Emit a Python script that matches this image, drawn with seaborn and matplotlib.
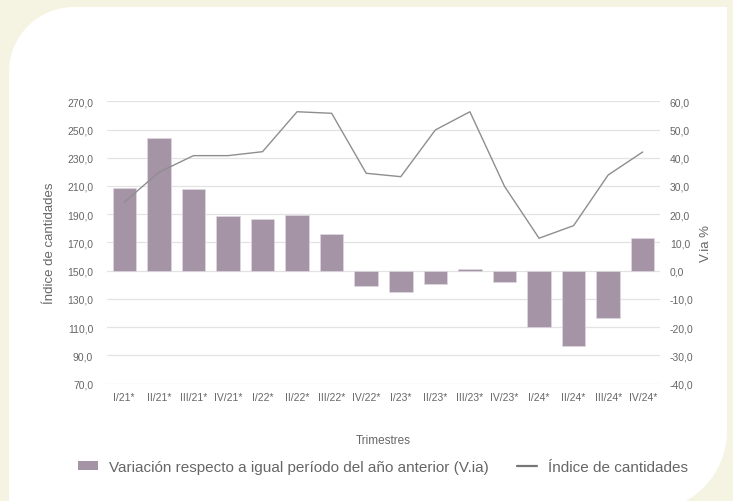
import numpy as np
import pandas as pd
import seaborn as sns
import matplotlib.pyplot as plt
from matplotlib.patches import Polygon, Patch
from matplotlib.lines import Line2D

# Data
trimestres = ['I/21*', 'II/21*', 'III/21*', 'IV/21*', 'I/22*', 'II/22*', 'III/22*', 'IV/22*',
              'I/23*', 'II/23*', 'III/23*', 'IV/23*', 'I/24*', 'II/24*', 'III/24*', 'IV/24*']
variacion_ia = [29.2, 46.9, 28.9, 19.4, 18.2, 19.8, 13.0, -5.3,
                -7.4, -4.8, 0.5, -4.1, -19.8, -26.8, -16.8, 11.6]
indice_cantidades = [198.5, 219.7, 231.5, 231.5, 234.3, 262.6, 261.5, 219.0,
                     216.6, 249.7, 262.6, 209.8, 173.0, 181.9, 217.8, 234.1]

df = pd.DataFrame({'trimestre': trimestres, 'via': variacion_ia, 'indice': indice_cantidades})

bar_color = '#A594A5'
line_color = '#8E8E8E'
text_color = '#666666'
cream = '#F5F3E1'

sns.set_theme(style='white')
plt.rcParams['font.family'] = ['Liberation Sans', 'DejaVu Sans']

fig = plt.figure(figsize=(7.33, 5.02), dpi=100)
fig.patch.set_facecolor(cream)

# white card with two rounded corners (pixel coords, origin bottom-left)
W, H = 733, 502
left, right, top, bottom = 9, 727, H - 8, -10
r1, r2 = 65, 80
t = np.linspace(0, np.pi / 2, 30)
pts = [(left, bottom), (right - r2, bottom)]
pts += list(zip(right - r2 + r2 * np.sin(t), bottom + r2 - r2 * np.cos(t)))
pts += [(right, top), (left + r1, top)]
pts += list(zip(left + r1 - r1 * np.sin(t), top - r1 + r1 * np.cos(t)))
pts = [(x / W, y / H) for x, y in pts]
fig.patches.append(Polygon(pts, closed=True, transform=fig.transFigure,
                           facecolor='white', edgecolor='none', zorder=-5))

ax = fig.add_axes([107 / W, 1 - 384.6 / H, (660 - 107) / W, (384.6 - 102.3) / H])
ax2 = ax.twinx()

# bars on the right axis
sns.barplot(data=df, x='trimestre', y='via', ax=ax2, color=bar_color,
            width=0.68, saturation=1, edgecolor='#E0D8E0', linewidth=0.5)
ax2.set_ylim(-40, 60)
ax2.set_yticks(np.arange(-40, 61, 10))
ax2.set_yticklabels([f'{v:.1f}'.replace('.', ',') for v in np.arange(-40, 61, 10)])
ax2.set_ylabel('V.ia %', color=text_color, fontsize=9.5, labelpad=5)
ax2.grid(axis='y', color='#E3E3E3', linewidth=0.9)
ax2.set_axisbelow(True)

# line on the left axis, drawn above the bars
sns.lineplot(data=df, x='trimestre', y='indice', ax=ax, color=line_color,
             linewidth=1.0, sort=False)
ax.set_zorder(ax2.get_zorder() + 1)
ax.patch.set_visible(False)
ax.set_ylim(70, 270)
ax.set_yticks(np.arange(70, 271, 20))
ax.set_yticklabels([f'{v:.1f}'.replace('.', ',') for v in np.arange(70, 271, 20)])
ax.set_ylabel('Índice de cantidades', color=text_color, fontsize=9.5, labelpad=8)
ax.set_xlim(-0.5, len(trimestres) - 0.5)
ax.set_xlabel('')
ax2.set_xlabel('')
fig.text(383 / W, 1 - 441 / H, 'Trimestres', ha='center', va='center',
         color=text_color, fontsize=8.5)

for a in (ax, ax2):
    for s in a.spines.values():
        s.set_visible(False)
    a.tick_params(axis='both', length=0, colors=text_color, labelsize=7.5)
ax.tick_params(axis='x', pad=6)
ax.tick_params(axis='y', pad=10)
ax2.tick_params(axis='y', pad=7)

handles = [Patch(facecolor=bar_color, edgecolor='none'),
           Line2D([0], [0], color='#777777', linewidth=1.6)]
labels = ['Variación respecto a igual período del año anterior (V.ia)', 'Índice de cantidades']
leg = fig.legend(handles, labels, loc='center', bbox_to_anchor=(383 / W, 1 - 468 / H),
                 ncol=2, frameon=False, fontsize=11, handlelength=1.3, handleheight=0.6,
                 columnspacing=1.9, handletextpad=0.7)
for txt in leg.get_texts():
    txt.set_color(text_color)

fig.savefig('out.png', dpi=100, facecolor=fig.get_facecolor())
